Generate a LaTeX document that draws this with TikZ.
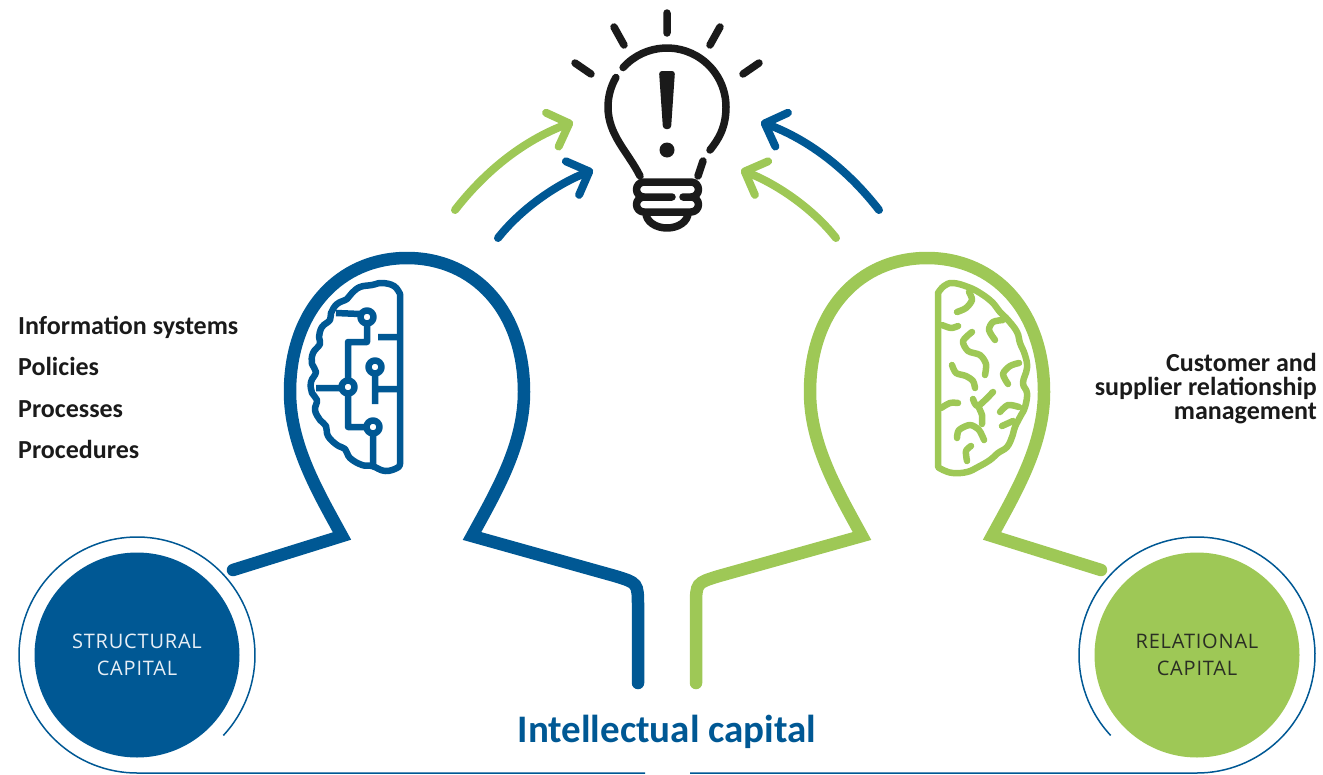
\documentclass[tikz,border=0pt]{standalone}
\usepackage{fontspec}
\setmainfont{Carlito}
\newfontfamily\capfont[LetterSpace=4]{Open Sans}
\usetikzlibrary{arrows.meta}
\definecolor{icblue}{RGB}{0,88,148}
\definecolor{icgreen}{RGB}{158,200,86}
\definecolor{icink}{RGB}{26,26,26}
\definecolor{capwhite}{RGB}{232,239,246}
\definecolor{capdark}{RGB}{42,46,36}
\tikzset{%
    head/.style={line width=12.5pt, line join=miter, line cap=round},
    icon/.style={line width=6.5pt, line cap=round, line join=round},
    bulb/.style={line width=7.5pt, line cap=round, line join=round, icink},
    flow/.style={line width=8pt, line cap=round, -{Straight Barb[length=18pt, width=36pt, round]}},
    capnode/.style={circle, minimum size=205pt, inner sep=0pt, align=center, font=\capfont\fontsize{20}{27}\selectfont},
    ring/.style={line width=1.5pt, icblue},
    item/.style={anchor=base west, inner sep=0pt, text=icink, font=\bfseries\fontsize{26}{30}\selectfont},
}
% head and shoulders, drawn for the left person
\newcommand\headline{(233,570) -- (342,536) .. controls (318,492) and (290,445) .. (290,392)
    .. controls (290,310) and (340,258) .. (407,258) .. controls (474,258) and (524,310) .. (524,392)
    .. controls (524,445) and (496,492) .. (472,536) -- (615,576) .. controls (638,583) .. (638,607) -- (638,683)}

\begin{document}
\begin{tikzpicture}[x=1pt, y=-1pt]
    \useasboundingbox (0,0) rectangle (1323,774);
    % capitals
    \node[capnode, fill=icblue, text=capwhite] (struct) at (137,655) {STRUCTURAL\\CAPITAL};
    \node[capnode, fill=icgreen, text=capdark] (relat) at (1197,655) {RELATIONAL\\CAPITAL};
    \draw[ring] (struct.center) ++(43:118) arc[start angle=43, end angle=-270, radius=118] -- (645,773);
    \draw[ring] (relat.center) ++(137:118) arc[start angle=137, end angle=450, radius=118] -- (690,773);
    % the two persons
    \draw[head, icblue] \headline;
    \begin{scope}[xshift=1334pt, xscale=-1]
        \draw[head, icgreen] \headline;
    \end{scope}
    % circuit brain
    \draw[icon, icblue] plot[smooth, tension=0.7] coordinates {(400,294) (394,286) (382,283) (372,285) (360,287)
        (352,293) (347,299) (337,304) (331,313) (330,320) (322,327) (319,337) (320,344) (313,353) (312,364)
        (316,372) (311,382) (312,393) (317,400) (315,410) (320,420) (326,426) (328,436) (337,445) (345,449)
        (350,458) (362,465) (372,466) (385,471) (397,468) (400,464)} -- cycle;
    \draw[icon, icblue] (367,317) circle (6.5) (375,367) circle (6.5) (348,387) circle (6.5) (373,427) circle (6.5);
    \draw[icon, icblue, line cap=butt] (360,314) -- (336,313)
        (367,324) -- (367,342) -- (348,342) -- (348,380)
        (400,337) -- (378,337)
        (375,374) -- (375,404)
        (375,389) -- (400,389)
        (341,388) -- (316,388)
        (348,394) -- (348,427) -- (366,427)
        (373,434) -- (373,468);
    % organic brain
    \draw[icon, icgreen] plot[smooth, tension=0.7] coordinates {(938,293) (944,286) (953,283) (968,287) (980,293)
        (992,302) (1000,312) (1008,320) (1017,332) (1020,343) (1025,355) (1027,368) (1023,383) (1027,393)
        (1025,407) (1020,417) (1015,427) (1012,437) (1007,447) (998,453) (990,460) (978,467) (967,472)
        (953,473) (943,470) (938,467)} -- cycle;
    \draw[icon, icgreen] plot[smooth] coordinates {(957,312) (966,308) (972,300) (969,292)};
    \draw[icon, icgreen] plot[smooth] coordinates {(942,325) (951,328) (958,326)};
    \draw[icon, icgreen] plot[smooth] coordinates {(972,332) (963,341) (968,351) (980,355) (986,364) (985,375)};
    \draw[icon, icgreen] plot[smooth] coordinates {(995,340) (989,330) (993,322) (1003,320)};
    \draw[icon, icgreen] plot[smooth] coordinates {(952,365) (956,373) (966,376) (973,381) (975,388)};
    \draw[icon, icgreen] plot[smooth] coordinates {(1008,384) (1003,374) (1010,366) (1019,363)};
    \draw[icon, icgreen] plot[smooth] coordinates {(973,399) (978,406) (993,392)};
    \draw[icon, icgreen] plot[smooth] coordinates {(978,406) (982,415) (982,424)};
    \draw[icon, icgreen] plot[smooth] coordinates {(941,408) (950,403) (958,403)};
    \draw[icon, icgreen] plot[smooth] coordinates {(1000,412) (1008,405) (1019,407)};
    \draw[icon, icgreen] plot[smooth] coordinates {(957,438) (959,430) (970,425) (979,430) (984,440)};
    \draw[icon, icgreen] plot[smooth] coordinates {(967,461) (966,451) (971,446)};
    \draw[icon, icgreen] plot[smooth] coordinates {(1002,426) (1013,421)};
    % light bulb
    \draw[bulb] (667,13) -- (667,33) (614,27) -- (624,45) (720,27) -- (710,45)
        (575,63) -- (591,74) (759,63) -- (743,74);
    \draw[bulb] (640,176) .. controls (628,152) and (608,135) .. (608,107) arc[start angle=180, end angle=210, radius=59];
    \draw[bulb] (667,107) ++(222:59) arc[start angle=222, end angle=360, radius=59]
        .. controls (726,128) and (718,140) .. (710,150);
    \draw[bulb] (703,161) -- (698,176);
    \draw[bulb] (672,197) -- (644,197) arc[start angle=90, end angle=270, radius=7.5] -- (691,182)
        arc[start angle=270, end angle=450, radius=7.5] arc[start angle=270, end angle=450, radius=7.5]
        -- (644,212) arc[start angle=90, end angle=270, radius=7.5]
        (683,197) -- (691,197);
    \draw[bulb] (646,213) arc[start angle=180, end angle=0, x radius=21, y radius=15];
    \fill[icink, rounded corners=3] (659,71) -- (675,71) -- (671,129) -- (663,129) -- cycle;
    \fill[icink] (667,150) circle (7.5);
    % ideas flowing to the bulb
    \coordinate (gL0) at (455,210);
    \coordinate (gL1) at (573,122);
    \coordinate (bL0) at (498,238);
    \coordinate (bL1) at (593,170);
    \coordinate (bR0) at (879,210);
    \coordinate (bR1) at (761,122);
    \coordinate (gR0) at (836,238);
    \coordinate (gR1) at (741,170);
    \draw[flow, icgreen] (gL0) .. controls (490,165) and (530,138) .. (gL1);
    \draw[flow, icblue] (bL0) .. controls (520,210) and (555,185) .. (bL1);
    \draw[flow, icblue] (bR0) .. controls (844,165) and (804,138) .. (bR1);
    \draw[flow, icgreen] (gR0) .. controls (814,210) and (779,185) .. (gR1);
    % labels
    \node[item] (info) at (18,334) {Information systems};
    \node[item] (pol) at (18,375) {Policies};
    \node[item] (proc) at (18,417) {Processes};
    \node[item] (pced) at (18,458) {Procedures};
    \node[anchor=base east, align=right, inner sep=0pt, text=icink, font=\bfseries\fontsize{26}{24}\selectfont] (crm) at (1317,419)
        {Customer and\\supplier relationship\\management};
    \node[anchor=base, inner sep=0pt, text=icblue, font=\bfseries\fontsize{39}{40}\selectfont] (ic) at (667,742) {Intellectual capital};
\end{tikzpicture}
\end{document}
